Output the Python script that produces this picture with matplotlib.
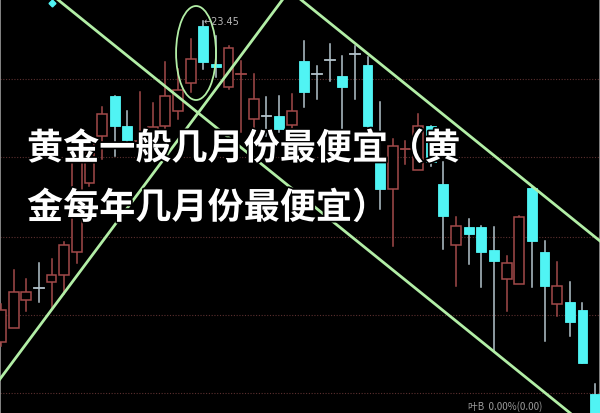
import matplotlib
matplotlib.use('Agg')
import matplotlib.pyplot as plt
from matplotlib.patches import Rectangle, Ellipse
import matplotlib.patheffects as pe

# ---- candle data ----
opens = [15.425, 15.775, 16.475, 16.775, 16.925, 17.1, 17.675, 19.4, 20.575, 21.575,
         20.825, 20.325, 20.5, 20.825, 21.2, 21.9, 23.325, 22.375, 21.8, 22.125,
         21.0, 21.075, 21.075, 20.85, 22.45, 22.125, 22.475, 22.075, 22.625, 22.35,
         20.0, 19.25, 20.25, 19.725, 20.825, 19.375, 17.85, 18.3, 18.3, 17.725,
         17.0, 16.875, 19.275, 17.675, 16.375, 16.425, 16.225, 14.125]
highs = [16.375, 17.225, 17.0, 17.4, 17.5, 17.925, 20.125, 20.575, 21.3, 21.575,
         21.2, 21.675, 21.4, 22.425, 22.25, 23.0, 23.45, 23.075, 22.825, 22.45,
         22.125, 21.55, 21.575, 21.625, 22.95, 22.325, 22.875, 22.575, 22.825, 22.55,
         21.425, 20.5, 20.45, 21.125, 20.825, 19.925, 18.55, 18.5, 18.325, 18.3,
         17.575, 18.575, 19.3, 17.95, 17.425, 16.925, 16.4, 14.375]
lows = [15.325, 15.775, 16.2, 16.425, 16.25, 16.625, 17.4, 19.325, 20.0, 20.075,
        20.325, 20.0, 20.325, 20.5, 21.0, 21.675, 22.25, 22.05, 21.75, 20.675,
        20.425, 20.575, 20.675, 20.5, 21.3, 21.5, 21.95, 20.675, 21.5, 20.8,
        18.75, 17.825, 19.875, 19.725, 19.825, 17.75, 16.825, 17.375, 16.8, 15.2,
        16.2, 16.875, 16.8, 15.45, 16.075, 15.575, 14.9, 13.5]
closes = [16.225, 16.675, 16.675, 16.775, 17.1, 17.85, 20.075, 20.5, 21.125, 20.825,
          20.475, 20.45, 20.8, 21.575, 21.725, 22.5, 22.425, 22.3, 22.775, 22.125,
          21.5, 21.075, 20.75, 21.2, 21.675, 22.125, 22.475, 21.8, 22.625, 20.825,
          19.25, 20.325, 20.25, 20.825, 19.925, 18.575, 18.325, 18.125, 17.675, 17.45,
          17.4, 18.55, 17.95, 16.825, 16.825, 15.925, 14.9, 13.5]
# doji candles: 'r' drawn red, 'c' drawn cyan/grey
doji_color = {3: 'c', 19: 'r', 21: 'c', 25: 'c', 26: 'c', 28: 'c', 32: 'r'}

grid_levels = [22.0, 20.05, 18.05, 16.1, 14.15]

# trend lines: (index, price) end points
trend_lines = [
    ([4.43, 45.02], [24.0, 13.65]),
    ([-0.08, 22.31], [14.5, 24.0]),
    ([23.66, 47.39], [24.0, 17.95]),
]
circle_center = (15.43, 22.65)
peak_label = "23.45"

title_lines = ["黄金一般几月份最便宜（黄", "金每年几月份最便宜）"]

RED = '#a24a4a'
CYAN = '#50f4f4'
WICK_C = '#b4c4cc'
GREEN = '#b2eea6'

fig = plt.figure(figsize=(6, 4.14), dpi=100, facecolor='black')
ax = fig.add_axes([0, 0, 1, 1])
ax.set_facecolor('black')
ax.set_xlim(-0.08, 47.39)
ax.set_ylim(13.65, 24.0)
ax.set_xticks([])
ax.set_yticks([])
ax.spines['bottom'].set_visible(False)
for side in ['top', 'left', 'right']:
    ax.spines[side].set_color('#9a9a9a')
    ax.spines[side].set_linewidth(1.2)

for g in grid_levels:
    ax.axhline(g, color='#5c3030', lw=0.8, ls=(0, (1, 1.5)), zorder=1)

w = 0.78
for i in range(len(opens)):
    o, h, l, c = opens[i], highs[i], lows[i], closes[i]
    if i in doji_color:
        col = RED if doji_color[i] == 'r' else WICK_C
        ax.plot([i, i], [l, h], color=col, lw=1.1, zorder=3)
        ax.plot([i - w / 2, i + w / 2], [o, o], color=col, lw=1.3, zorder=3)
        continue
    if c >= o:
        ax.plot([i, i], [l, o], color=RED, lw=1.1, zorder=3)
        ax.plot([i, i], [c, h], color=RED, lw=1.1, zorder=3)
        ax.add_patch(Rectangle((i - w / 2, o), w, c - o, facecolor='black',
                               edgecolor=RED, lw=1.1, zorder=4))
    else:
        ax.plot([i, i], [l, h], color=WICK_C, lw=1.1, zorder=3)
        ax.add_patch(Rectangle((i - w / 2, c), w, o - c, facecolor=CYAN,
                               edgecolor=CYAN, lw=0.6, zorder=4))

for xs, ys in trend_lines:
    ax.plot(xs, ys, color=GREEN, lw=2.0, zorder=5)
ax.add_patch(Ellipse(circle_center, 3.16, 2.35, fill=False, edgecolor=GREEN,
                     lw=1.3, zorder=5))

ax.plot([4.03], [23.9], marker='D', ms=3.5, color=CYAN, zorder=5)
ax.text(16.05, 23.45, "←" + peak_label, color='#b8b8b8', fontsize=7,
        va='center', ha='left', zorder=6)

ax.text(0.78, 0.004, "叶B  0.00%(0.00)", transform=ax.transAxes, color='#9a9a9a',
        fontsize=7, va='bottom', ha='left', family=['Noto Sans CJK SC', 'DejaVu Sans'])

ys = [0.638, 0.495]
for line, yy in zip(title_lines, ys):
    ax.text(0.045, yy, line, transform=ax.transAxes, color='white', fontsize=26,
            fontweight='bold', va='center', ha='left',
            family=['Noto Sans CJK SC', 'DejaVu Sans'], zorder=10,
            path_effects=[pe.withStroke(linewidth=2.5, foreground='black')])

fig.savefig('out.png', dpi=100, facecolor='black')
